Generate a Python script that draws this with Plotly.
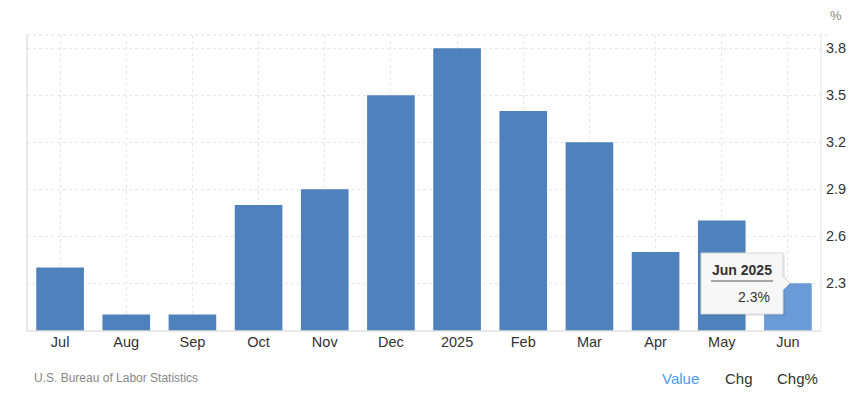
import plotly.graph_objects as go

categories = ["Jul", "Aug", "Sep", "Oct", "Nov", "Dec", "2025", "Feb", "Mar", "Apr", "May", "Jun"]
values = [2.4, 2.1, 2.1, 2.8, 2.9, 3.5, 3.8, 3.4, 3.2, 2.5, 2.7, 2.3]
y_ticks = [2.3, 2.6, 2.9, 3.2, 3.5, 3.8]
highlight_index = 11
tooltip_title = "Jun 2025"
tooltip_value = "2.3%"

# page body has an 8px margin, so work in screen pixels minus that offset
OFF = 8
W, H = 861 - OFF, 408 - OFF
L, T = 27 - OFF, 35 - OFF
R = W - (821 - OFF)
B = H - (331 - OFF)
pw, ph = W - L - R, H - T - B

base_color = "#4f81bd"
hi_color = "#6b9bd6"
colors = [hi_color if i == highlight_index else base_color for i in range(len(values))]

FONT = "Liberation Sans, Arial, sans-serif"

fig = go.Figure(go.Bar(
    x=categories, y=values, marker=dict(color=colors, line=dict(width=0)),
    hoverinfo="skip",
))

def px_x(p):
    return (p - OFF - L) / pw

def px_y(p):
    return (H - B - (p - OFF)) / ph

shapes = []
shapes.append(dict(type="line", xref="paper", yref="paper", x0=0, x1=0, y0=0, y1=1,
                   line=dict(color="#e0e0e0", width=1.5)))
shapes.append(dict(type="line", xref="paper", yref="paper", x0=1, x1=1, y0=0, y1=1,
                   line=dict(color="#e3e3e3", width=1)))
shapes.append(dict(type="line", xref="paper", yref="paper", x0=0, x1=px_x(830), y0=1, y1=1,
                   line=dict(color="#dddddd", width=1, dash="dot")))
shapes.append(dict(type="line", xref="paper", yref="paper", x0=0, x1=1, y0=0, y1=0,
                   line=dict(color="#e0e0e0", width=1.5)))

bx0, bx1, by0, by1 = 701, 783, 253, 314
shapes.append(dict(type="rect", xref="paper", yref="paper",
                   x0=px_x(bx0 + 2), x1=px_x(bx1 + 2), y0=px_y(by1 + 2), y1=px_y(by0 + 2),
                   fillcolor="rgba(0,0,0,0.08)", line=dict(width=0), layer="above"))
shapes.append(dict(type="path", xref="paper", yref="paper",
                   path=(f"M {px_x(bx1)} {px_y(276)} L {px_x(790)} {px_y(283)} L {px_x(bx1)} {px_y(290)} Z"),
                   fillcolor="#f7f7f7", line=dict(color="#d0d0d0", width=1), layer="above"))
shapes.append(dict(type="rect", xref="paper", yref="paper",
                   x0=px_x(bx0), x1=px_x(bx1), y0=px_y(by1), y1=px_y(by0),
                   fillcolor="#f7f7f7", line=dict(color="#d6d6d6", width=1), layer="above"))
shapes.append(dict(type="line", xref="paper", yref="paper", x0=px_x(bx1), x1=px_x(bx1),
                   y0=px_y(289), y1=px_y(277), line=dict(color="#f7f7f7", width=2), layer="above"))
shapes.append(dict(type="line", xref="paper", yref="paper", x0=px_x(711), x1=px_x(773),
                   y0=px_y(281), y1=px_y(281), line=dict(color="#555555", width=1), layer="above"))

annotations = [
    dict(text="%", xref="paper", yref="paper", x=px_x(836), y=px_y(16), showarrow=False,
         font=dict(family=FONT, size=13, color="#888888"), xanchor="center", yanchor="middle"),
    dict(text="U.S. Bureau of Labor Statistics", xref="paper", yref="paper", x=px_x(32), y=px_y(378),
         showarrow=False, font=dict(family=FONT, size=12, color="#888888"), xanchor="left", yanchor="middle"),
    dict(text="Value", xref="paper", yref="paper", x=px_x(680), y=px_y(378), showarrow=False,
         font=dict(family=FONT, size=15, color="#4a9df0"), xanchor="center", yanchor="middle"),
    dict(text="Chg", xref="paper", yref="paper", x=px_x(739), y=px_y(378), showarrow=False,
         font=dict(family=FONT, size=15, color="#333333"), xanchor="center", yanchor="middle"),
    dict(text="Chg%", xref="paper", yref="paper", x=px_x(797), y=px_y(378), showarrow=False,
         font=dict(family=FONT, size=15, color="#333333"), xanchor="center", yanchor="middle"),
    dict(text="<b>" + tooltip_title + "</b>", xref="paper", yref="paper", x=px_x(742), y=px_y(270),
         showarrow=False, font=dict(family=FONT, size=14, color="#333333"), xanchor="center", yanchor="middle"),
    dict(text=tooltip_value, xref="paper", yref="paper", x=px_x(772), y=px_y(297),
         showarrow=False, font=dict(family=FONT, size=14, color="#333333"), xanchor="right", yanchor="middle"),
]

fig.update_layout(
    width=W, height=H,
    margin=dict(l=L, r=R, t=T, b=B, pad=0),
    paper_bgcolor="white", plot_bgcolor="white",
    bargap=0.28,
    showlegend=False,
    shapes=shapes,
    annotations=annotations,
    xaxis=dict(
        type="category", showgrid=True, gridcolor="#e6e6e6", griddash="dot", gridwidth=1,
        showline=False, zeroline=False, ticks="",
        tickfont=dict(family=FONT, size=14.5, color="#333333"),
        fixedrange=True,
    ),
    yaxis=dict(
        side="right", range=[1.995, 3.885], tickvals=y_ticks,
        ticktext=[f"{v:.1f}" for v in y_ticks],
        showgrid=True, gridcolor="#e6e6e6", griddash="dot", gridwidth=1,
        zeroline=False, showline=False, ticks="", ticklabelstandoff=4,
        tickfont=dict(family=FONT, size=14.5, color="#333333"),
        fixedrange=True,
    ),
)

fig.write_html("out.html")
